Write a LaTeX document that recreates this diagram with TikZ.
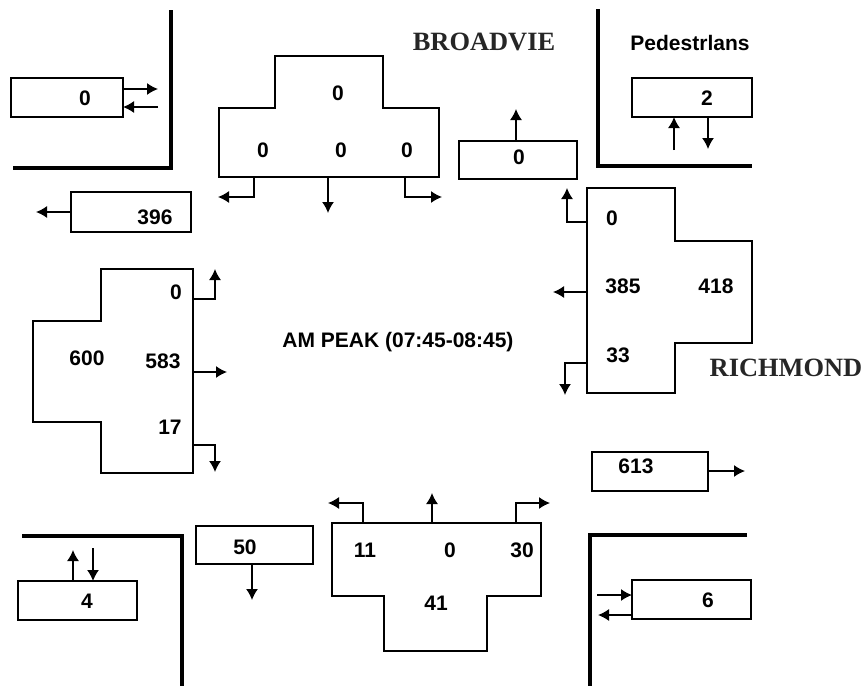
\documentclass[tikz,border=0pt]{standalone}
\usepackage{fontspec}
\setmainfont{Liberation Sans}
\newfontfamily\roadfont{Liberation Serif}
\usetikzlibrary{arrows.meta}
\tikzset{>={Latex[length=5.5pt,width=6pt]}}
\tikzstyle{count} = [font=\fontsize{10.5}{12}\selectfont\bfseries, inner sep=0pt]
\tikzstyle{road} = [font=\roadfont\fontsize{13.2}{15}\selectfont\bfseries, text=black!85, inner sep=0pt]
\tikzstyle{kerb} = [line width=2pt]
\tikzstyle{outline} = [line width=0.8pt]
\tikzstyle{arrow} = [line width=0.7pt,->]

\begin{document}
\begin{tikzpicture}[x=0.5pt,y=-0.5pt]
\useasboundingbox (0,0) rectangle (867,687);

% kerb corners
\draw[kerb] (171,10) -- (171,168) -- (13,168);
\draw[kerb] (598,9) -- (598,166) -- (752,166);
\draw[kerb] (22,536) -- (182,536) -- (182,686);
\draw[kerb] (747,535) -- (590,535) -- (590,686);

% street names and title
\node[road] (broadview) at (484,42) {BROADVIE};
\node[road] (richmond) at (786,368) {RICHMOND};
\node[count] (pedtitle) at (690,43) {Pedestrlans};
\node[count] (peak) at (398,342) {AM PEAK (07:45-08:45)};

% pedestrian boxes
\draw[outline] (11,78) rectangle (123,117);
\node[count] (pednw) at (85,98) {0};
\draw[arrow] (123,89) -- (158,89);
\draw[arrow] (158,107) -- (123,107);

\draw[outline] (632,78) rectangle (752,117);
\node[count] (pedne) at (707,98) {2};
\draw[arrow] (674,150) -- (674,117);
\draw[arrow] (708,117) -- (708,149);

\draw[outline] (18,581) rectangle (137,620);
\node[count] (pedsw) at (87,601) {4};
\draw[arrow] (73,581) -- (73,550);
\draw[arrow] (93,548) -- (93,581);

\draw[outline] (632,580) rectangle (751,619);
\node[count] (pedse) at (708,600) {6};
\draw[arrow] (597,595) -- (632,595);
\draw[arrow] (632,615) -- (598,615);

% exit boxes
\draw[outline] (71,192) rectangle (191,232);
\node[count] (exitw) at (155,217) {396};
\draw[arrow] (71,212) -- (36,212);

\draw[outline] (459,141) rectangle (577,179);
\node[count] (exitn) at (519,157) {0};
\draw[arrow] (516,141) -- (516,109);

\draw[outline] (592,452) rectangle (708,491);
\node[count] (exite) at (636,466) {613};
\draw[arrow] (708,471) -- (745,471);

\draw[outline] (196,526) rectangle (313,564);
\node[count] (exits) at (245,547) {50};
\draw[arrow] (252,564) -- (252,600);

% north approach
\draw[outline] (275,56) -- (383,56) -- (383,108) -- (439,108) -- (439,177)
  -- (219,177) -- (219,108) -- (275,108) -- cycle;
\node[count] (ntot) at (338,93) {0};
\node[count] (nright) at (263,150) {0};
\node[count] (nthru) at (341,150) {0};
\node[count] (nleft) at (407,150) {0};
\draw[arrow] (254,177) -- (254,197) -- (218,197);
\draw[arrow] (328,177) -- (328,213);
\draw[arrow] (405,177) -- (405,197) -- (442,197);

% east approach
\draw[outline] (587,188) -- (675,188) -- (675,241) -- (752,241) -- (752,343)
  -- (675,343) -- (675,393) -- (587,393) -- cycle;
\node[count] (eright) at (612,218) {0};
\node[count] (ethru) at (623,286) {385};
\node[count] (etot) at (716,286) {418};
\node[count] (eleft) at (618,355) {33};
\draw[arrow] (587,222) -- (567,222) -- (567,188);
\draw[arrow] (587,292) -- (553,292);
\draw[arrow] (587,363) -- (565,363) -- (565,395);

% south approach
\draw[outline] (332,523) -- (541,523) -- (541,596) -- (487,596) -- (487,651)
  -- (384,651) -- (384,596) -- (332,596) -- cycle;
\node[count] (sleft) at (365,550) {11};
\node[count] (sthru) at (450,550) {0};
\node[count] (sright) at (522,550) {30};
\node[count] (stot) at (436,603) {41};
\draw[arrow] (363,523) -- (363,503) -- (328,503);
\draw[arrow] (432,523) -- (432,493);
\draw[arrow] (516,523) -- (516,503) -- (550,503);

% west approach
\draw[outline] (101,269) -- (193,269) -- (193,473) -- (101,473) -- (101,422)
  -- (33,422) -- (33,321) -- (101,321) -- cycle;
\node[count] (wleft) at (176,292) {0};
\node[count] (wtot) at (87,358) {600};
\node[count] (wthru) at (163,361) {583};
\node[count] (wright) at (170,427) {17};
\draw[arrow] (193,299) -- (215,299) -- (215,269);
\draw[arrow] (193,372) -- (227,372);
\draw[arrow] (193,445) -- (215,445) -- (215,472);

\end{tikzpicture}
\end{document}
